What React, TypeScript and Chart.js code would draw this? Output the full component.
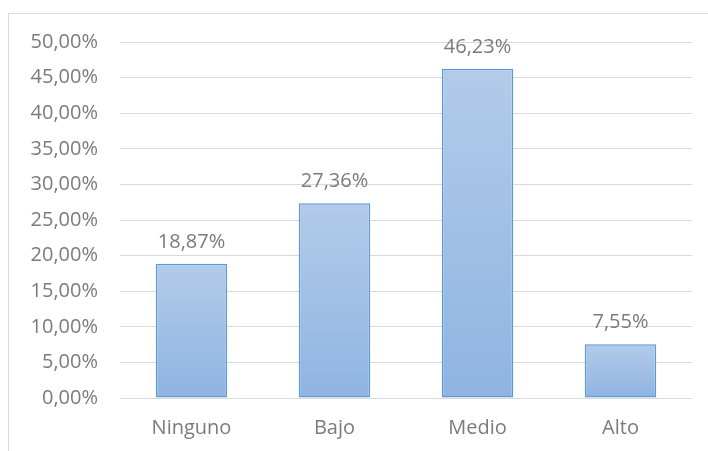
import React, { useEffect, useRef } from "react";
import { Chart, registerables } from "chart.js";

Chart.register(...registerables);

const categories = ["Ninguno", "Bajo", "Medio", "Alto"];
const values = [18.87, 27.36, 46.23, 7.55];
const yMin = 0;
const yMax = 50;
const yStep = 5;

const fmt = (v: number) => v.toFixed(2).replace(".", ",") + "%";

const FONT = "'Open Sans', 'Noto Sans', sans-serif";
const TEXT = "#7b7b7b";

export default function App() {
  const ref = useRef<HTMLCanvasElement>(null);

  useEffect(() => {
    document.body.style.margin = "0";
    const canvas = ref.current!;
    const framePlugin = {
      id: "frame",
      beforeDraw(chart: any) {
        const ctx = chart.ctx;
        ctx.save();
        ctx.fillStyle = "#ffffff";
        ctx.fillRect(0, 0, chart.width, chart.height);
        ctx.strokeStyle = "#d9d9d9";
        ctx.lineWidth = 1;
        ctx.strokeRect(8.5, 13.5, chart.width + 20, chart.height + 20);
        ctx.restore();
      },
    };
    const labelPlugin = {
      id: "barLabels",
      afterDatasetsDraw(chart: any) {
        const ctx = chart.ctx;
        const meta = chart.getDatasetMeta(0);
        ctx.save();
        ctx.font = `20px ${FONT}`;
        ctx.fillStyle = TEXT;
        ctx.textAlign = "center";
        ctx.textBaseline = "alphabetic";
        meta.data.forEach((bar: any, i: number) => {
          ctx.fillText(fmt(values[i]), bar.x, bar.y - 16);
        });
        ctx.restore();
      },
    };
    const chart = new Chart(canvas, {
      type: "bar",
      data: {
        labels: categories,
        datasets: [
          {
            data: values,
            backgroundColor: (c: any) => {
              const ch = c.chart;
              const ys = ch.scales.y;
              if (!ys || c.dataIndex === undefined) return "#a3c1e6";
              const top = ys.getPixelForValue(values[c.dataIndex]);
              const bottom = ys.getPixelForValue(0);
              if (!isFinite(top) || !isFinite(bottom) || top === bottom) return "#a3c1e6";
              const g = ch.ctx.createLinearGradient(0, top, 0, bottom);
              g.addColorStop(0, "#b3cbe9");
              g.addColorStop(1, "#8fb4e2");
              return g;
            },
            borderColor: "#5b9bd5",
            borderWidth: 1.5,
            borderSkipped: false,
            barPercentage: 0.5,
            categoryPercentage: 1,
          },
        ],
      },
      options: {
        responsive: false,
        animation: false,
        events: [],
        layout: { padding: { top: 42, right: 16, bottom: 0, left: 0 } },
        plugins: { legend: { display: false }, tooltip: { enabled: false } },
        scales: {
          x: {
            afterFit: (s: any) => {
              s.height = 53;
            },
            grid: { display: false, drawTicks: false },
            border: { display: false },
            ticks: { color: TEXT, font: { family: FONT, size: 20 }, padding: 18 },
          },
          y: {
            min: yMin,
            max: yMax,
            afterFit: (s: any) => {
              s.width = 120;
            },
            grid: { color: "#d9d9d9", lineWidth: 1, drawTicks: false },
            border: { display: false },
            ticks: {
              stepSize: yStep,
              color: TEXT,
              font: { family: FONT, size: 20 },
              padding: 22,
              callback: (v: any) => fmt(Number(v)),
            },
          },
        },
      },
      plugins: [framePlugin, labelPlugin],
    });
    return () => chart.destroy();
  }, []);

  return (
    <div style={{ position: "absolute", left: 0, top: 0, width: 708, height: 451 }}>
      <canvas ref={ref} width={708} height={451} />
    </div>
  );
}
